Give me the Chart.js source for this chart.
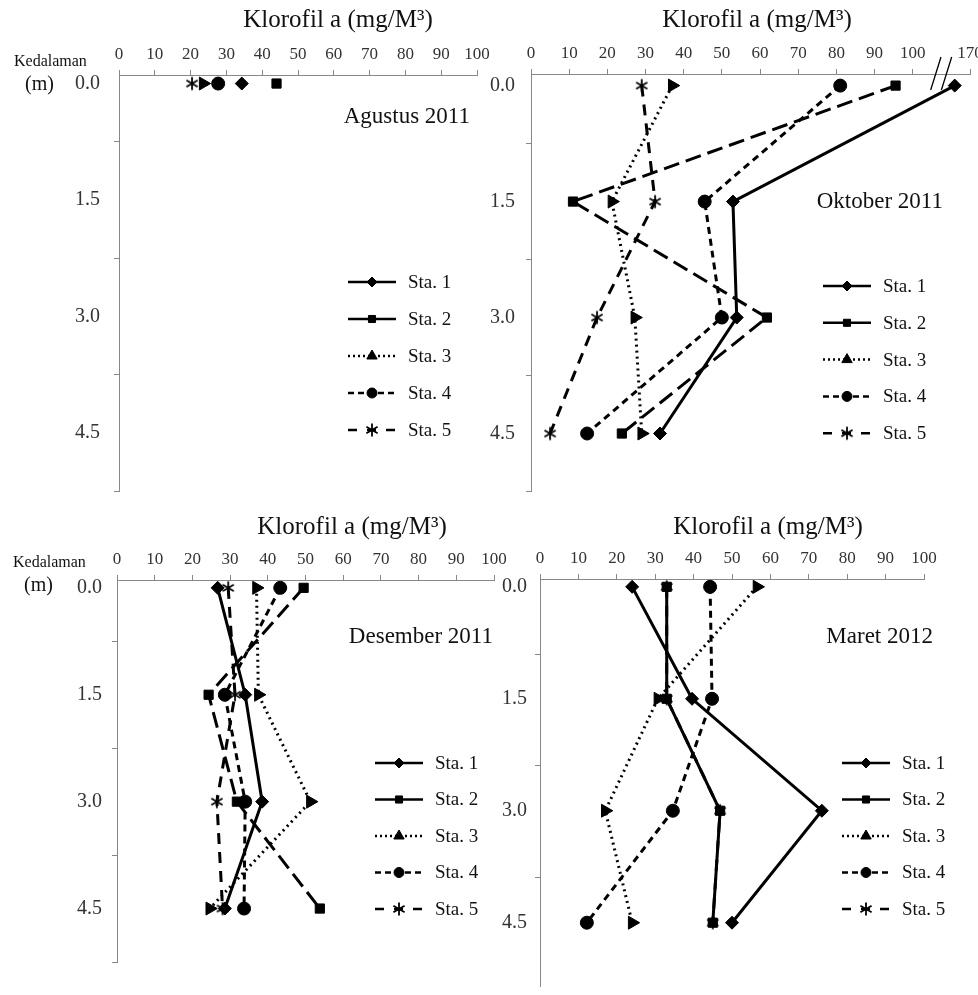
<!DOCTYPE html>
<html>
<head>
<meta charset="utf-8">
<script src="https://cdn.jsdelivr.net/npm/chart.js@4.4.1/dist/chart.umd.min.js"></script>
<style>
  body { margin: 0; background: #fff; width: 978px; height: 995px; position: relative; overflow: hidden; }
  canvas { position: absolute; }
</style>
</head>
<body>
<canvas id="c1" width="490" height="500" style="left:0;top:0"></canvas>
<canvas id="c2" width="500" height="500" style="left:490px;top:0"></canvas>
<canvas id="c3" width="510" height="495" style="left:0;top:500px"></canvas>
<canvas id="c4" width="488" height="495" style="left:490px;top:500px"></canvas>
<script>
// depth of each sample (m) and station names
var depths = [0, 1.5, 3.0, 4.5];
var stations = ['Sta. 1', 'Sta. 2', 'Sta. 3', 'Sta. 4', 'Sta. 5'];
var xTicks = [0, 10, 20, 30, 40, 50, 60, 70, 80, 90, 100];
var titleText = 'Klorofil a (mg/M\u00b3)';

// klorofil a per station, one value per depth (null = not sampled)
var agustus = [
  [34.3, null, null, null],
  [44.0, null, null, null],
  [23.5, null, null, null],
  [27.7, null, null, null],
  [20.4, null, null, null]
];
var oktober = [
  [166, 52.9, 53.9, 33.8],
  [95.5, 11.0, 61.8, 23.8],
  [37.0, 21.2, 27.2, 29.0],
  [81.0, 45.5, 50.0, 14.7],
  [29.0, 32.5, 17.3, 5.0]
];
var desember = [
  [26.7, 34.0, 38.5, 28.6],
  [49.5, 24.3, 31.8, 53.8],
  [37.0, 37.5, 51.3, 24.6],
  [43.3, 28.6, 34.0, 33.7],
  [29.5, 31.3, 26.5, 28.0]
];
var maret = [
  [24.0, 39.6, 73.4, 50.0],
  [33.0, 33.0, 46.9, 45.0],
  [56.5, 30.7, 17.0, 24.0],
  [44.3, 44.8, 34.6, 12.2],
  [33.0, 33.0, 46.9, 45.0]
];

// oktober axis is broken after 100: 170 sits where 115 would be
var breakAt = 100;
var breakShift = 55;
var oktoberTicks = xTicks.concat([breakAt + 15]);

Chart.defaults.font.family = "'Liberation Serif', 'Times New Roman', serif";
Chart.defaults.color = '#333';

// six-arm asterisk marker for Sta. 5
var star = document.createElement('canvas');
star.width = 16; star.height = 16;
(function () {
  var g = star.getContext('2d');
  g.strokeStyle = '#000'; g.lineWidth = 1.8;
  g.beginPath();
  g.moveTo(8, 1.5); g.lineTo(8, 14.5);
  g.moveTo(2.4, 4.8); g.lineTo(13.6, 11.2);
  g.moveTo(2.4, 11.2); g.lineTo(13.6, 4.8);
  g.stroke();
})();

var marks = [
  { pointStyle: 'rectRot', radius: 6.5, rotation: 0, dash: [], legendDash: [] },
  { pointStyle: 'rect', radius: 6.5, rotation: 0, dash: [16, 7], legendDash: [] },
  { pointStyle: 'triangle', radius: 7.5, rotation: 90, dash: [2, 4], legendDash: [2, 3] },
  { pointStyle: 'circle', radius: 6.5, rotation: 0, dash: [7, 5], legendDash: [6, 4] },
  { pointStyle: star, radius: 7, rotation: 0, dash: [11, 8], legendDash: [9, 10] }
];

var decor = {
  id: 'decor',
  afterDraw: function (chart, args, o) {
    var ctx = chart.ctx;
    ctx.save();
    ctx.fillStyle = '#111';
    ctx.textBaseline = 'middle';
    ctx.font = "25px 'Liberation Serif'";
    ctx.textAlign = 'center';
    ctx.fillText(titleText, o.titleX, o.titleY);
    ctx.font = "23px 'Liberation Serif'";
    ctx.textAlign = 'right';
    ctx.fillText(o.month, o.monthX, o.monthY);
    if (o.depthLabel) {
      ctx.textAlign = 'left';
      ctx.font = "16px 'Liberation Serif'";
      ctx.fillText('Kedalaman', o.depthLabel[0], o.depthLabel[1]);
      ctx.font = "20px 'Liberation Serif'";
      ctx.fillText('(m)', o.depthLabel[0] + 11, o.depthLabel[1] + 23);
    }
    // legend
    for (var i = 0; i < stations.length; i++) {
      var y = o.legendY + i * o.legendGap;
      var m = marks[i];
      ctx.strokeStyle = '#000';
      ctx.lineWidth = 2.5;
      ctx.setLineDash(m.legendDash);
      ctx.beginPath();
      ctx.moveTo(o.legendX, y);
      ctx.lineTo(o.legendX + 48, y);
      ctx.stroke();
      ctx.setLineDash([]);
      ctx.fillStyle = '#000';
      ctx.lineWidth = 1;
      Chart.helpers.drawPoint(ctx, { pointStyle: m.pointStyle, radius: m.radius - 1.5, rotation: 0, borderWidth: 1 }, o.legendX + 24, y);
      ctx.fillStyle = '#111';
      ctx.textAlign = 'left';
      ctx.font = "19px 'Liberation Serif'";
      ctx.fillText(stations[i], o.legendX + 60, y + 1);
    }
    if (o.breakMarks) {
      var xs = chart.scales.x;
      var top = chart.chartArea.top;
      ctx.strokeStyle = '#000';
      ctx.lineWidth = 1.3;
      ctx.beginPath();
      ctx.moveTo(xs.getPixelForValue(107.4), top - 17);
      ctx.lineTo(xs.getPixelForValue(104.7), top + 16);
      ctx.moveTo(xs.getPixelForValue(110.2), top - 17);
      ctx.lineTo(xs.getPixelForValue(107.5), top + 16);
      ctx.stroke();
    }
    ctx.restore();
  }
};

function toAxis(v, broken) {
  return broken && v > breakAt ? v - breakShift : v;
}

function makePanel(id, values, p) {
  var datasets = values.map(function (vals, i) {
    var m = marks[i];
    var pts = [];
    depths.forEach(function (d, j) {
      if (vals[j] != null) pts.push({ x: toAxis(vals[j], p.broken), y: d });
    });
    return {
      label: stations[i],
      data: pts,
      showLine: true,
      borderColor: '#000',
      backgroundColor: '#000',
      borderWidth: 3,
      borderDash: (p.solid && p.solid.indexOf(i) >= 0) ? [] : m.dash,
      pointStyle: m.pointStyle,
      pointRadius: m.radius,
      pointHoverRadius: m.radius,
      pointRotation: m.rotation,
      pointBorderWidth: 1,
      clip: false
    };
  });
  var yTicks = depths.concat(p.minor);

  new Chart(document.getElementById(id), {
    type: 'scatter',
    data: { datasets: datasets },
    options: {
      responsive: false,
      animation: false,
      layout: { padding: { left: 0, top: 0, right: p.padRight, bottom: p.padBottom } },
      plugins: {
        legend: { display: false },
        tooltip: { enabled: false },
        decor: p.decor
      },
      scales: {
        x: {
          type: 'linear',
          position: 'top',
          min: 0,
          max: p.xMax,
          afterBuildTicks: function (s) {
            s.ticks = (p.broken ? oktoberTicks : xTicks).map(function (v) { return { value: v }; });
          },
          afterFit: function (s) {
            s.height = p.xAxisHeight;
            s.paddingLeft = 0; s.paddingRight = 0;
          },
          border: { color: '#888', width: 1 },
          grid: { drawOnChartArea: false, tickLength: 5, tickColor: '#888' },
          ticks: {
            autoSkip: false, maxRotation: 0, padding: 5,
            font: { size: 17 }, color: '#333',
            callback: function (v) { return p.broken && v > breakAt ? v + breakShift : v; }
          }
        },
        y: {
          type: 'linear',
          reverse: true,
          min: p.yMin,
          max: p.yMax,
          afterBuildTicks: function (s) {
            s.ticks = yTicks.map(function (v) { return { value: v }; });
          },
          afterFit: function (s) {
            s.width = p.yAxisWidth;
            s.paddingTop = 0; s.paddingBottom = 0;
          },
          border: { color: '#888', width: 1 },
          grid: {
            drawOnChartArea: false, tickLength: 5,
            tickColor: function (c) {
              return c.tick && depths.indexOf(c.tick.value) >= 0 ? 'rgba(0,0,0,0)' : '#888';
            }
          },
          ticks: {
            autoSkip: false, padding: p.yLabelPad,
            font: { size: 20 }, color: '#333',
            callback: function (v) { return depths.indexOf(v) >= 0 ? v.toFixed(1) : ''; }
          }
        }
      }
    },
    plugins: [decor]
  });
}

makePanel('c1', agustus, {
  xMax: 100, yMin: -0.11, yMax: 5.25, minor: [0.75, 2.25, 3.75, 5.25],
  yAxisWidth: 119, xAxisHeight: 75, padRight: 13, padBottom: 8, yLabelPad: 14,
  decor: { titleX: 338, titleY: 20, month: 'Agustus 2011', monthX: 470, monthY: 117,
    legendX: 348, legendY: 282, legendGap: 37, depthLabel: [14, 62] }
});
makePanel('c2', oktober, {
  broken: true, xMax: 115, yMin: -0.15, yMax: 5.25, minor: [0.75, 2.25, 3.75, 5.25],
  yAxisWidth: 41, xAxisHeight: 74, padRight: 20, padBottom: 8, yLabelPad: 11,
  decor: { titleX: 267, titleY: 20, month: 'Oktober 2011', monthX: 453, monthY: 202,
    legendX: 333, legendY: 286, legendGap: 36.8, breakMarks: true }
});
makePanel('c3', desember, {
  xMax: 100, yMin: -0.11, yMax: 5.25, minor: [0.75, 2.25, 3.75, 5.25],
  yAxisWidth: 117, xAxisHeight: 80, padRight: 16, padBottom: 33, yLabelPad: 10,
  decor: { titleX: 352, titleY: 27, month: 'Desember 2011', monthX: 493, monthY: 137,
    legendX: 375, legendY: 263, legendGap: 36.5, depthLabel: [13, 63] }
});
makePanel('c4', maret, {
  solid: [1], xMax: 100, yMin: -0.105, yMax: 5.355, minor: [0.9, 2.4, 3.9],
  yAxisWidth: 50, xAxisHeight: 79, padRight: 54, padBottom: 0, yLabelPad: 8,
  decor: { titleX: 278, titleY: 27, month: 'Maret 2012', monthX: 443, monthY: 137,
    legendX: 352, legendY: 263, legendGap: 36.5 }
});
</script>
</body>
</html>
